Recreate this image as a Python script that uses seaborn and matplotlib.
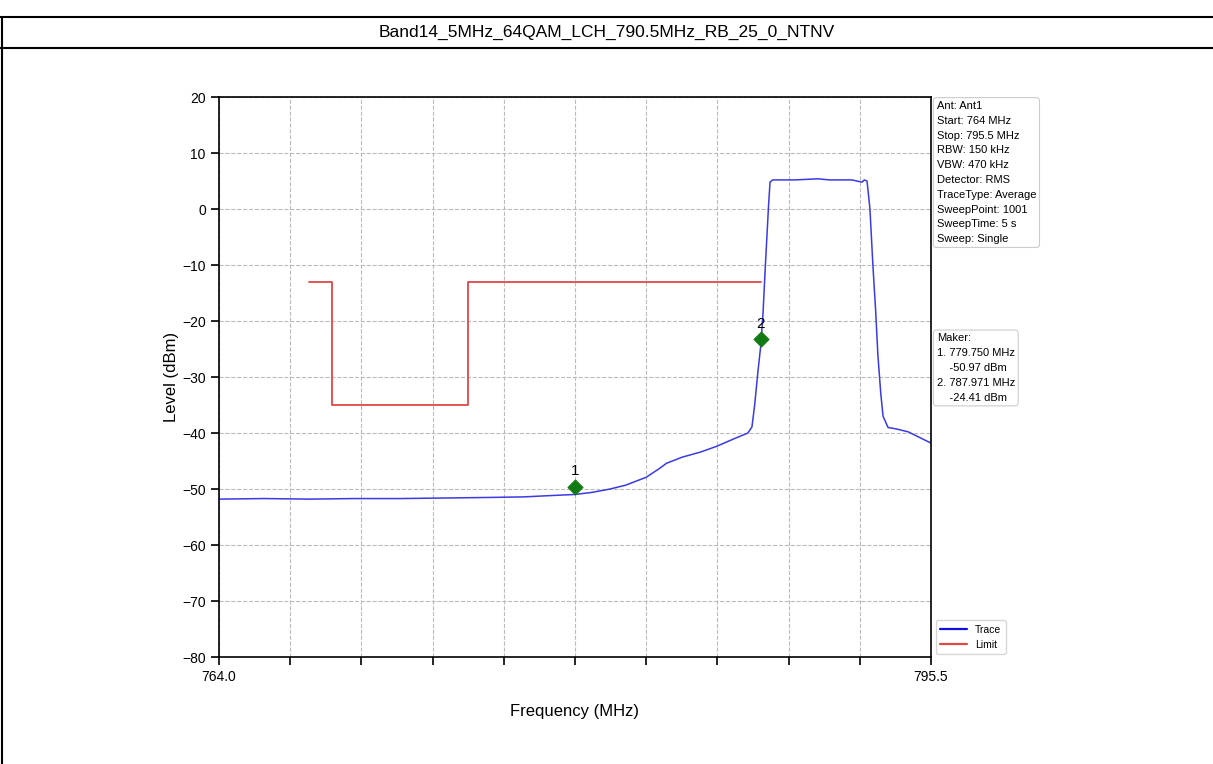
import numpy as np
import pandas as pd
import matplotlib
matplotlib.use("Agg")
import matplotlib.pyplot as plt
import seaborn as sns
from matplotlib.lines import Line2D

# spectrum trace (MHz, dBm)
trace_freq = [764.0, 766.0, 768.0, 770.0, 772.0, 774.0, 776.0, 777.5, 778.5, 779.75,
              780.5, 781.3, 782.0, 782.9, 783.5, 783.8, 784.5, 785.3, 786.0, 786.8,
              787.4, 787.58, 787.7, 787.85, 787.97, 788.07, 788.15, 788.24, 788.32, 788.38,
              788.5, 789.5, 790.0, 790.5, 791.0, 792.0, 792.45, 792.55, 792.67, 792.75,
              792.8, 792.93, 793.05, 793.15, 793.28, 793.38, 793.6, 794.0, 794.5, 795.0, 795.5]
trace_level = [-51.8, -51.7, -51.8, -51.7, -51.7, -51.6, -51.5, -51.4, -51.2, -50.97,
               -50.6, -50.0, -49.3, -47.9, -46.3, -45.4, -44.3, -43.4, -42.4, -41.0,
               -40.0, -38.9, -35.0, -28.8, -24.4, -18.6, -12.0, -5.0, 1.0, 4.8,
               5.2, 5.2, 5.3, 5.4, 5.2, 5.2, 4.8, 5.2, 5.0, 2.0,
               0.0, -10.0, -18.0, -26.0, -33.0, -37.0, -39.0, -39.3, -39.8, -40.8, -41.8]

# limit line
limit_freq = [768.0, 769.0, 769.0, 775.0, 775.0, 788.0]
limit_level = [-13, -13, -35, -35, -13, -13]

# markers
marker_freq = [779.75, 787.971]
marker_y = [-49.6, -23.2]
marker_names = ['1', '2']
marker_text = "Maker:\n1. 779.750 MHz\n    -50.97 dBm\n2. 787.971 MHz\n    -24.41 dBm"

info_text = ("Ant: Ant1\nStart: 764 MHz\nStop: 795.5 MHz\nRBW: 150 kHz\nVBW: 470 kHz\n"
             "Detector: RMS\nTraceType: Average\nSweepPoint: 1001\nSweepTime: 5 s\nSweep: Single")

title = "Band14_5MHz_64QAM_LCH_790.5MHz_RB_25_0_NTNV"

sns.set_style("white")
plt.rcParams['font.family'] = ['Liberation Sans', 'DejaVu Sans']
plt.rcParams['text.color'] = 'black'
plt.rcParams['axes.labelcolor'] = 'black'
plt.rcParams['xtick.color'] = 'black'
plt.rcParams['ytick.color'] = 'black'

fig = plt.figure(figsize=(12.13, 7.64), dpi=100)
ax = fig.add_axes([0.1805, 0.14, 0.587, 0.733])

trace_df = pd.DataFrame({'Frequency': trace_freq, 'Level': trace_level})
limit_df = pd.DataFrame({'Frequency': limit_freq, 'Level': limit_level})
sns.lineplot(data=trace_df, x='Frequency', y='Level', ax=ax, color='#3a3ae6', lw=1.1,
             sort=False, estimator=None, label='Trace')
sns.lineplot(data=limit_df, x='Frequency', y='Level', ax=ax, color='#e04848', lw=1.3,
             sort=False, estimator=None, label='Limit')
sns.scatterplot(x=marker_freq, y=marker_y, ax=ax, marker='D', s=60, color='#127a12',
                edgecolor='#127a12', zorder=5, legend=False)
for f, y, n in zip(marker_freq, marker_y, marker_names):
    ax.annotate(n, (f, y), xytext=(0, 6), textcoords='offset points', ha='center',
                va='bottom', fontsize=11)

ax.set_xlim(764, 795.5)
ax.set_ylim(-80, 20)
ax.set_xticks(np.linspace(764, 795.5, 11))
ax.set_xticklabels(['764.0'] + [''] * 9 + ['795.5'])
ax.set_yticks(range(-80, 21, 10))
ax.grid(True, ls='--', color='#bbbbbb', lw=0.8)
ax.tick_params(axis='both', direction='out', length=6, width=1.2, labelsize=10, bottom=True, left=True)
for s in ax.spines.values():
    s.set_color('black')
    s.set_linewidth(1.2)
ax.set_xlabel('Frequency (MHz)', fontsize=12, labelpad=14)
ax.set_ylabel('Level (dBm)', fontsize=12, labelpad=2)

box = dict(boxstyle='round,pad=0.3', fc='white', ec='#cccccc', lw=0.8)
ax.text(1.008, 0.993, info_text, transform=ax.transAxes, va='top', ha='left', fontsize=8,
        linespacing=1.6, bbox=box)
ax.text(1.008, 0.578, marker_text, transform=ax.transAxes, va='top', ha='left', fontsize=8,
        linespacing=1.6, bbox=box)
leg = ax.legend(loc='lower left', bbox_to_anchor=(1.002, 0.0), fontsize=7.5, frameon=True,
                handlelength=2.6, borderaxespad=0.3)
leg.get_frame().set_edgecolor('#cccccc')
for h in leg.get_lines():
    h.set_linewidth(1.6)
leg.get_lines()[0].set_color('#1010e0')

# page-style frame around title
fig.text(0.5, 0.957, title, ha='center', va='center', fontsize=12.5)
for yy in [1 - 17 / 764, 1 - 48 / 764]:
    fig.add_artist(Line2D([0, 1], [yy, yy], color='black', lw=1.5, transform=fig.transFigure))
fig.add_artist(Line2D([1.5 / 1213, 1.5 / 1213], [0, 1 - 17 / 764], color='black', lw=1.5,
                      transform=fig.transFigure))

fig.savefig('out.png', dpi=100)
